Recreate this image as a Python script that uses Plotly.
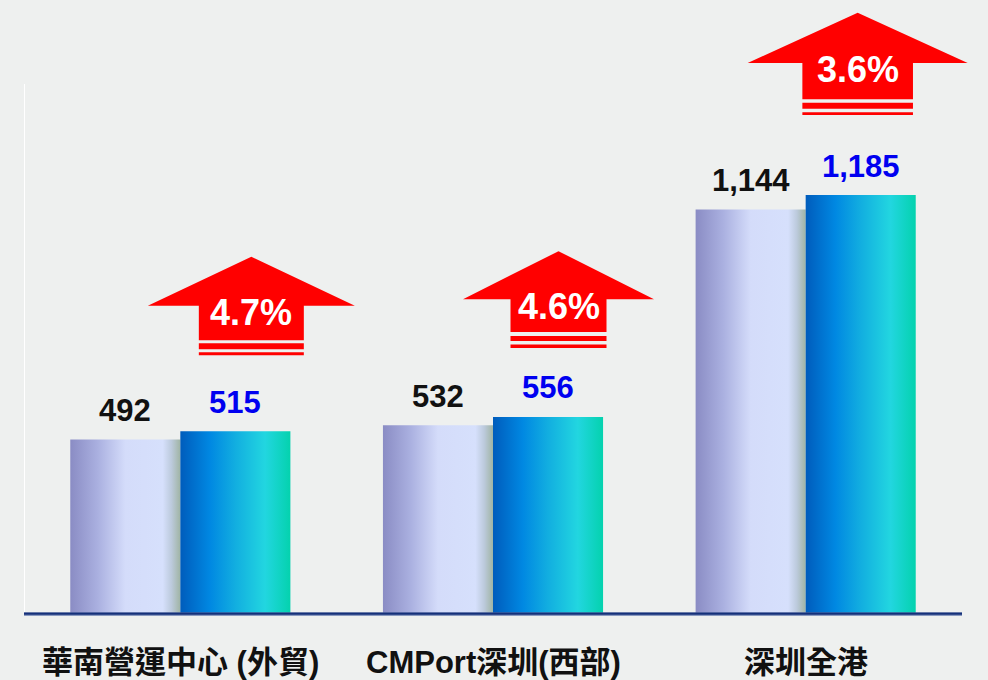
import plotly.graph_objects as go

# ---- data ----
categories = ["華南營運中心 (外貿)", "CMPort深圳(西部)", "深圳全港"]
prev_values = [492, 532, 1144]
curr_values = [515, 556, 1185]
growth_labels = ["4.7%", "4.6%", "3.6%"]

# ---- style ----
BG = "#eef0ef"
BAR_W = 0.352
PX_PER_UNIT = 0.3527
Y_BOTTOM = -3 / PX_PER_UNIT   # a little room below the baseline so the axis line is not clipped
Y_TOP = 613 / PX_PER_UNIT     # axis range reaching the top edge of the picture
Y_LINE_TOP = 1500             # where the white vertical axis line stops
X_MAX = 2.5 + 26 / 312.67     # plot area stretched to the right edge (for the arrow)
prev_scale = [[0, "#8a8cc4"], [0.25, "#aab0e0"], [0.5, "#d4dcfa"],
              [0.84, "#d6e0fc"], [0.92, "#bccadc"], [1, "#a0b4a4"]]
curr_scale = [[0, "#005cbc"], [0.27, "#0088e2"], [0.5, "#12aee0"],
              [0.77, "#22d6e0"], [1, "#04d2ae"]]

# arrow geometry in pixels (relative to group centre / taller bar top)
arrow_cfg = [
    dict(dx=71, bottom=76, W=207, bw=105, head=49, main=34.6, g1=3.0, s1=6.0, g2=3.0, s2=3.0, txt=43),
    dict(dx=65.5, bottom=69, W=191, bw=96, head=48, main=32.7, g1=4.0, s1=5.0, g2=3.6, s2=3.4, txt=41.4),
    dict(dx=52, bottom=80, W=220, bw=110.6, head=50.4, main=36.3, g1=3.3, s1=6.0, g2=3.7, s2=2.7, txt=45.4),
]

fig = go.Figure()

def bar_poly(x0, x1, v, scale):
    fig.add_trace(go.Scatter(
        x=[x0, x0, x1, x1, x0], y=[0, v, v, 0, 0],
        mode="lines", fill="toself", line=dict(width=0, color="rgba(0,0,0,0)"),
        fillgradient=dict(type="horizontal", colorscale=scale),
        hoverinfo="skip", showlegend=False))

for i, (p, c) in enumerate(zip(prev_values, curr_values)):
    bar_poly(i - BAR_W, i, p, prev_scale)
    bar_poly(i, i + BAR_W, c, curr_scale)

annotations = []
shapes = [
    dict(type="line", xref="x", yref="y", x0=-0.5, x1=-0.5, y0=0, y1=Y_LINE_TOP,
         line=dict(color="#ffffff", width=2), layer="below"),
    dict(type="line", xref="x", yref="y", x0=-0.5, x1=2.5, y0=-1.2 / PX_PER_UNIT, y1=-1.2 / PX_PER_UNIT,
         line=dict(color="#8a9ac0", width=3.5), layer="above"),
    dict(type="line", xref="x", yref="y", x0=-0.5, x1=2.5, y0=-0.6 / PX_PER_UNIT, y1=-0.6 / PX_PER_UNIT,
         line=dict(color="#14307a", width=2.4), layer="above"),
]
for i, (p, c) in enumerate(zip(prev_values, curr_values)):
    annotations.append(dict(x=i - BAR_W / 2, y=p, xref="x", yref="y", text=f"{p:,}",
                            showarrow=False, yanchor="middle", yshift=29,
                            font=dict(size=31, color="#111111", family="Arial, Liberation Sans", weight="bold")))
    annotations.append(dict(x=i + BAR_W / 2, y=c, xref="x", yref="y", text=f"{c:,}",
                            showarrow=False, yanchor="middle", yshift=29,
                            font=dict(size=31, color="#0000f0", family="Arial, Liberation Sans", weight="bold")))
    annotations.append(dict(x=i, y=0, xref="x", yref="y", text=categories[i],
                            showarrow=False, yanchor="middle", yshift=-49,
                            font=dict(size=31, color="#111111",
                                      family="Arial, Liberation Sans, Noto Sans CJK TC", weight="bold")))

    a = arrow_cfg[i]
    top = max(p, c)
    cx = a["dx"]
    b = a["bottom"]
    hw, hb = a["W"] / 2, a["bw"] / 2
    y_s2_top = b + a["s2"]
    y_s1_bot = y_s2_top + a["g2"]
    y_s1_top = y_s1_bot + a["s1"]
    y_main_bot = y_s1_top + a["g1"]
    y_main_top = y_main_bot + a["main"]
    y_tip = y_main_top + a["head"]
    common = dict(type="path", xref="x", yref="y", xsizemode="pixel", ysizemode="pixel",
                  xanchor=i, yanchor=top, fillcolor="#ff0000", line=dict(width=0), layer="above")
    arrow_path = (f"M{cx-hb},{y_main_bot} L{cx-hb},{y_main_top} L{cx-hw},{y_main_top} "
                  f"L{cx},{y_tip} L{cx+hw},{y_main_top} L{cx+hb},{y_main_top} L{cx+hb},{y_main_bot} Z")
    shapes.append(dict(path=arrow_path, **common))
    shapes.append(dict(path=f"M{cx-hb},{y_s1_bot} L{cx-hb},{y_s1_top} L{cx+hb},{y_s1_top} L{cx+hb},{y_s1_bot} Z", **common))
    shapes.append(dict(path=f"M{cx-hb},{b} L{cx-hb},{y_s2_top} L{cx+hb},{y_s2_top} L{cx+hb},{b} Z", **common))
    annotations.append(dict(x=i, y=top, xref="x", yref="y", text=growth_labels[i],
                            showarrow=False, xshift=cx, yshift=b + a["txt"], yanchor="middle",
                            font=dict(size=36, color="#ffffff", family="Arial, Liberation Sans", weight="bold")))

fig.update_layout(
    width=988, height=680,
    margin=dict(l=24, r=0, t=0, b=64),
    paper_bgcolor=BG, plot_bgcolor=BG,
    showlegend=False,
    annotations=annotations,
    shapes=shapes,
    xaxis=dict(range=[-0.5, X_MAX], showgrid=False, zeroline=False, showticklabels=False,
               showline=False, ticks=""),
    yaxis=dict(range=[Y_BOTTOM, Y_TOP], showgrid=False, zeroline=False, showticklabels=False,
               showline=False, ticks=""),
)

fig.write_html("out.html", config={"displayModeBar": False},
               post_script="document.body.style.margin='0';document.body.style.background='" + BG + "';")
